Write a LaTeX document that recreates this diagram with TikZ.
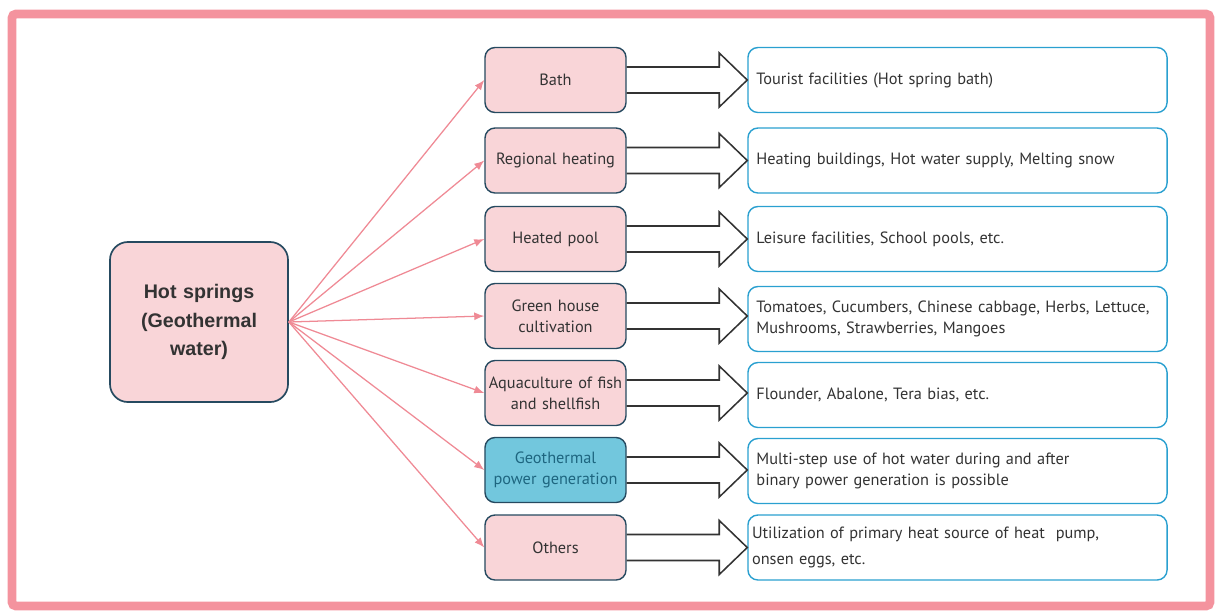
\documentclass[tikz,border=0pt]{standalone}
\usepackage{fontspec}
\setmainfont{PT Sans}
\newfontfamily\titlefont{Liberation Sans}
\usetikzlibrary{arrows.meta, positioning, calc}
\definecolor{framepink}{HTML}{F4939E}
\definecolor{boxpink}{HTML}{F9D5D8}
\definecolor{boxedge}{HTML}{264A60}
\definecolor{arrowpink}{HTML}{EF8A95}
\definecolor{useedge}{HTML}{2AA0D0}
\definecolor{geoblue}{HTML}{72C7DD}
\definecolor{geotext}{HTML}{1E6680}
\definecolor{textgray}{HTML}{333333}

\tikzset{
  source/.style={draw=boxedge, fill=boxpink, line width=1.2pt, rounded corners=0.45cm,
    minimum width=4.45cm, minimum height=4cm, text width=4cm, align=center,
    font=\titlefont\fontsize{14}{20.5}\selectfont\bfseries, text=textgray},
  usebox/.style={draw=boxedge, fill=boxpink, line width=1pt, rounded corners=0.25cm,
    minimum width=3.525cm, minimum height=1.625cm, text width=3.5cm, inner xsep=0.0125cm,
    align=center, font=\fontsize{11.6}{15}\selectfont, text=textgray},
  detail/.style={draw=useedge, fill=white, line width=1pt, rounded corners=0.25cm,
    minimum width=10.475cm, minimum height=1.625cm, text width=10.05cm, inner xsep=0.2125cm,
    align=left, font=\fontsize{11.6}{14.5}\selectfont, text=textgray},
  feed/.style={draw=arrowpink, line width=0.9pt, -{Latex[length=0.25cm, width=0.2cm]}},
  fat/.style={draw=textgray, line width=1.1pt, line join=miter}
}

\begin{document}
\begin{tikzpicture}[x=0.025cm, y=-0.025cm]
  \useasboundingbox (0,0) rectangle (1216,614);

  % Frame
  \draw[framepink, line width=0.22cm, rounded corners=0.1cm] (12,14) rectangle (1210,606);

  % Source
  \node[source] (hot) at (199,322) {Hot springs\\(Geothermal\\water)};

  % Uses
  \node[usebox] (m1) at (555.5,80) {Bath};
  \node[usebox] (m2) at (555.5,160.5) {Regional heating};
  \node[usebox] (m3) at (555.5,239) {Heated pool};
  \node[usebox] (m4) at (555.5,316) {Green house\\cultivation};
  \node[usebox] (m5) at (555.5,393) {Aquaculture of fish\\and shellfish};
  \node[usebox, fill=geoblue, text=geotext] (m6) at (555.5,470) {Geothermal\\power generation};
  \node[usebox] (m7) at (555.5,547.5) {Others};

  % Details
  \node[detail] (d1) at (957.5,80) {Tourist facilities (Hot spring bath)};
  \node[detail] (d2) at (957.5,160.5) {Heating buildings, Hot water supply, Melting snow};
  \node[detail] (d3) at (957.5,239) {Leisure facilities, School pools, etc.};
  \node[detail] (d4) at (957.5,319) {Tomatoes, Cucumbers, Chinese cabbage, Herbs, Lettuce,\\Mushrooms, Strawberries, Mangoes};
  \node[detail] (d5) at (957.5,395) {Flounder, Abalone, Tera bias, etc.};
  \node[detail] (d6) at (957.5,471) {Multi-step use of hot water during and after\\binary power generation is possible};
  \node[detail, font=\fontsize{11.6}{18.5}\selectfont, inner xsep=0.1cm, text width=10.27cm] (d7) at (957.5,547.5) {Utilization of primary heat source of heat\ \ pump,\\onsen eggs, etc.};

  % Connectors
  \foreach \i in {1,...,7}{
    \draw[feed] (hot.east) -- (m\i.west);
    \coordinate (tip\i) at (d\i.west |- m\i.east);
    \draw[fat] ($(m\i.east)+(0,-13)$) -- ($(tip\i)+(-28,-13)$) -- ($(tip\i)+(-28,-27)$)
      -- (tip\i) -- ($(tip\i)+(-28,27)$) -- ($(tip\i)+(-28,13)$) -- ($(m\i.east)+(0,13)$);
  }
\end{tikzpicture}
\end{document}
